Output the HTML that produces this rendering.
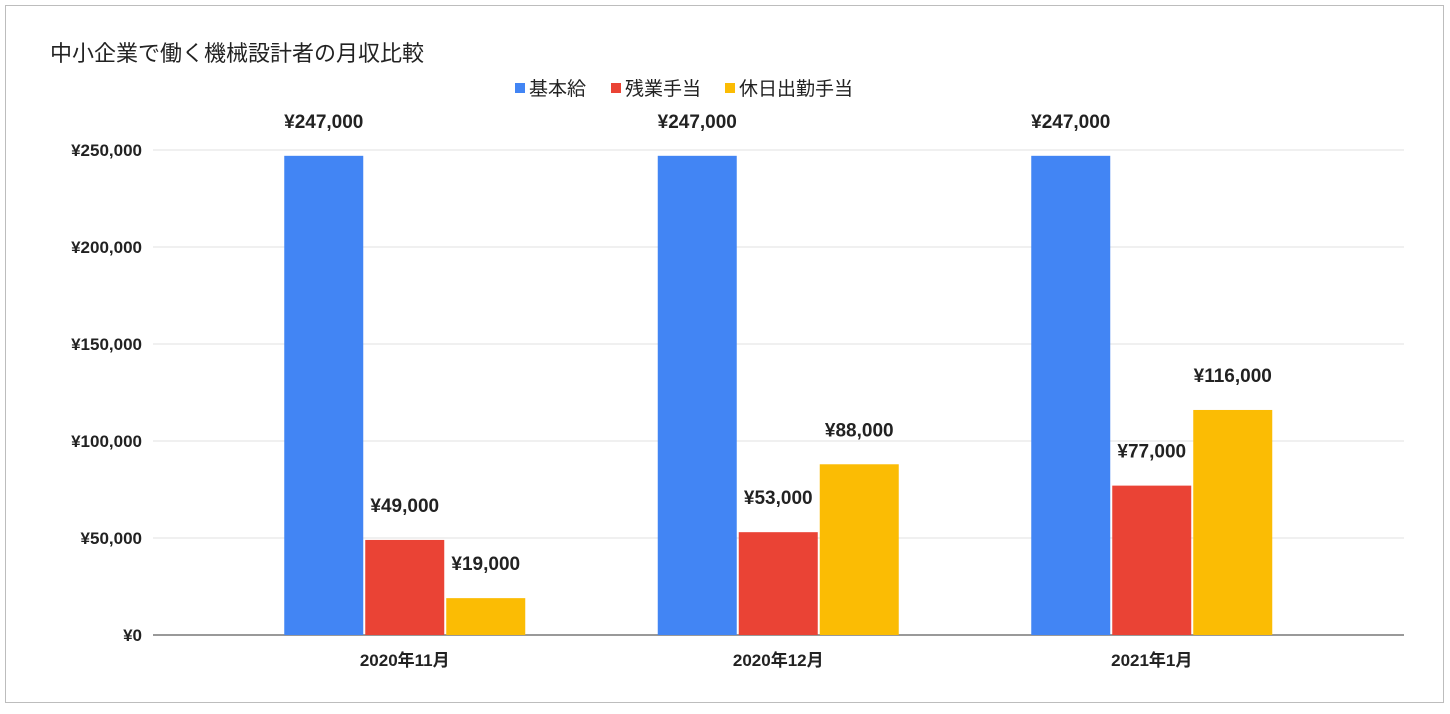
<!DOCTYPE html>
<html><head><meta charset="utf-8">
<style>
body{margin:0;background:#fff;}
svg text{font-family:"Liberation Sans","Noto Sans CJK JP",sans-serif;}
</style></head>
<body>
<svg id="chart" width="1450" height="709" xmlns="http://www.w3.org/2000/svg">
<rect x="5.5" y="5.5" width="1438" height="697" fill="#fff" stroke="#bdbdbd"/>
<text x="50" y="61" font-size="22" fill="#222">中小企業で働く機械設計者の月収比較</text>
<g id="legend"></g>
<g id="grid"></g>
<g id="bars"></g>
<g id="xlabels"></g>
</svg>
<script>
const categories = ["2020年11月","2020年12月","2021年1月"];
const seriesNames = ["基本給","残業手当","休日出勤手当"];
const kihonkyu = [247000,247000,247000];
const zangyo = [49000,53000,77000];
const kyujitsu = [19000,88000,116000];
const yTicks = [0,50000,100000,150000,200000,250000];
const colors = ["#4285f4","#ea4335","#fbbc04"];
const series = [kihonkyu, zangyo, kyujitsu];

const NS="http://www.w3.org/2000/svg";
const plotL=153, plotR=1404, y0=635, yTop=150, yMax=250000;
const bandStart=218, band=373.5, barW=79, barGap=2;
const yScale=v=>y0-(v/yMax)*(y0-yTop);
const fmt=v=>"¥"+v.toLocaleString("en-US");
function mk(tag,attrs,parent,text){const e=document.createElementNS(NS,tag);for(const k in attrs)e.setAttribute(k,attrs[k]);if(text!==undefined)e.textContent=text;parent.appendChild(e);return e;}

const grid=document.getElementById("grid");
yTicks.forEach(t=>{
  const y=yScale(t);
  const l=mk("line",{x1:plotL,x2:plotR,y1:y,y2:y,stroke:t===0?"#333":"#e0e0e0","stroke-width":1},grid);
  
  
  const tx=mk("text",{x:142,y:y+6,"text-anchor":"end","font-size":17,"font-weight":"bold",fill:"#222"},grid,fmt(t));
  
  
});

const bars=document.getElementById("bars");
const groupW=barW*3+barGap*2;
categories.forEach((c,i)=>{
  const cx=bandStart+band*(i+0.5);
  const gx=cx-groupW/2;
  series.forEach((s,j)=>{
    const x=gx+j*(barW+barGap);
    const y=yScale(s[i]);
    const r=mk("rect",{x:x,y:y,width:barW,height:y0-y,fill:colors[j]},bars);
    
    
    const t=mk("text",{x:x+barW/2,y:y-28,"text-anchor":"middle","font-size":19,"font-weight":"bold",fill:"#222"},bars,fmt(s[i]));
    
    
  });
  const xl=mk("text",{x:cx,y:666,"text-anchor":"middle","font-size":17,"font-weight":"bold",fill:"#222"},document.getElementById("xlabels"),c);
  
  
});

const legend=document.getElementById("legend");
const legendX=[515,611,725];
seriesNames.forEach((n,j)=>{
  const g=mk("g",{},legend);
  
  
  mk("rect",{x:legendX[j],y:83,width:10,height:10,fill:colors[j]},g);
  mk("text",{x:legendX[j]+14,y:95,"font-size":19,fill:"#222"},g,n);
});
</script>
</body></html>
